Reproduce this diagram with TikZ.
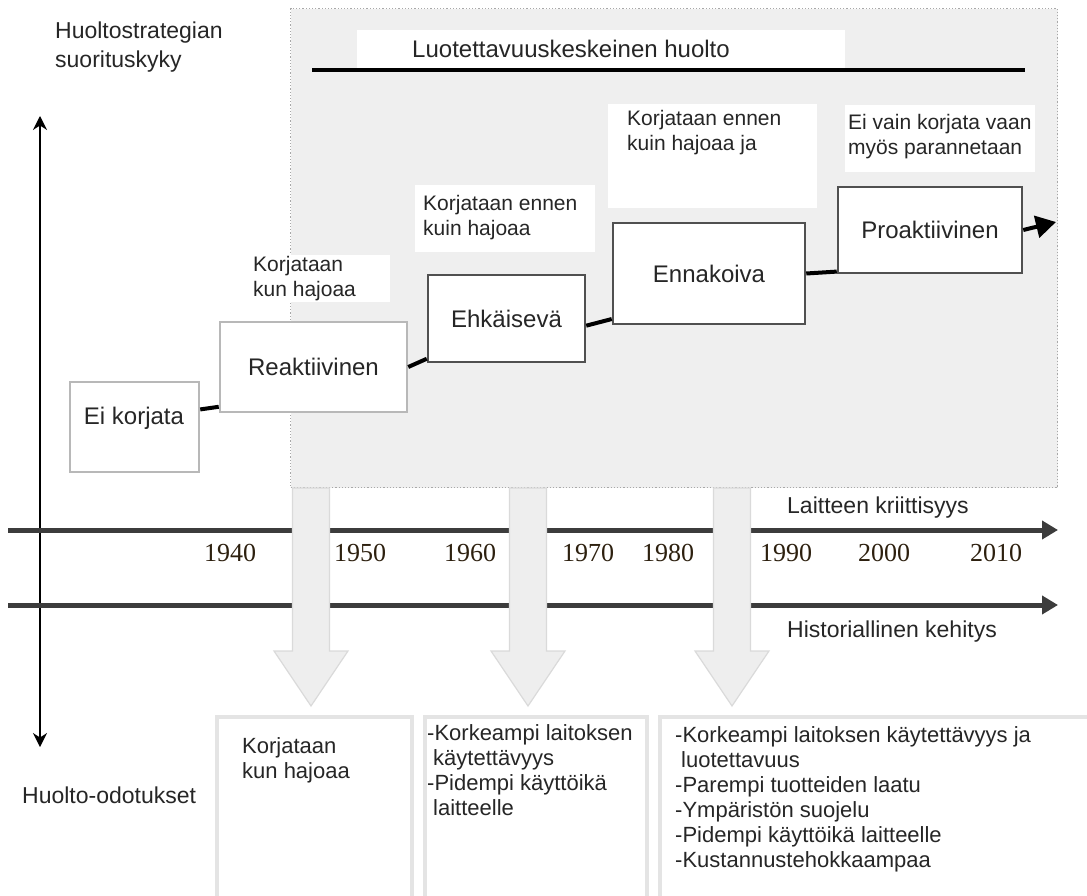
\documentclass[tikz,border=0pt]{standalone}
\usepackage{fontspec}
\setmainfont{Liberation Sans}
\newfontfamily\yearfont{Liberation Serif}
\usetikzlibrary{arrows.meta,calc}
\definecolor{panelfill}{HTML}{EFEFEF}
\definecolor{paneledge}{HTML}{A8A8A8}
\definecolor{blockfill}{HTML}{EEEEEE}
\definecolor{blockedge}{HTML}{DADADA}
\definecolor{yearcol}{RGB}{45,32,15}
\definecolor{txtcol}{HTML}{262626}
\definecolor{lightedge}{HTML}{B8B8B8}
\definecolor{darkedge}{HTML}{505050}
\definecolor{bottomedge}{HTML}{E4E4E4}
\definecolor{axiscol}{HTML}{3C3C3C}
\newcommand\fsbig{\fontsize{24pt}{29pt}\selectfont}
\newcommand\fsmid{\fontsize{23pt}{29pt}\selectfont}
\newcommand\fslbl{\fontsize{21pt}{25pt}\selectfont}
\newcommand\fsbot{\fontsize{22pt}{25pt}\selectfont}
\newcommand\fsyear{\fontsize{26pt}{30pt}\selectfont}
\begin{document}
\begin{tikzpicture}[x=1pt,y=-1pt,
  every node/.style={inner sep=0pt, text=txtcol},
  stagebox/.style={draw=#1, line width=2.5pt, fill=white, font=\fsbig},
  whitebg/.style={fill=white, anchor=north west},
  lbl/.style={font=\fslbl, align=left, anchor=west},
  bottombox/.style={draw=bottomedge, line width=4pt, fill=white, anchor=north west},
  bottomtxt/.style={font=\fsbot, align=left, anchor=west},
  conn/.style={line width=4pt, black},
  axisline/.style={draw=axiscol, line width=5pt, -{Triangle[length=16pt,width=18pt]}},
  blockarrow/.style={fill=blockfill, draw=blockedge, line width=1.2pt},
  yearlbl/.style={font=\yearfont\fsyear, text=yearcol}
]
\useasboundingbox (0,0) rectangle (1087,896);
\clip (0,0) rectangle (1087,896);

% shaded panel
\node[draw=paneledge, dotted, line width=1.2pt, fill=panelfill, minimum width=767pt, minimum height=479pt, anchor=north west] (panel) at (290,8) {};

% title
\node[whitebg, minimum width=488pt, minimum height=40pt] (titlebg) at (357,30) {};
\node[font=\fsbig] (title) at (571,49) {Luotettavuuskeskeinen huolto};
\coordinate (tl) at (312,70);
\coordinate (tr) at (1025,70);
\draw[line width=4pt] (tl) -- (tr);

% label backgrounds
\node[whitebg, minimum width=150pt, minimum height=47pt] (l1bg) at (240,255) {};
\node[whitebg, minimum width=180pt, minimum height=67pt] (l2bg) at (415,185) {};
\node[whitebg, minimum width=209pt, minimum height=104pt] (l3bg) at (608,104) {};
\node[whitebg, minimum width=190pt, minimum height=67pt] (l4bg) at (845,105) {};
\node[lbl] (l1) at (253,278.5) {Korjataan\\kun hajoaa};
\node[lbl] (l2) at (423,217.5) {Korjataan ennen\\kuin hajoaa};
\node[lbl] (l3) at (627,132.5) {Korjataan ennen\\kuin hajoaa ja};
\node[lbl] (l4) at (848,136.5) {Ei vain korjata vaan\\myös parannetaan};

% stage boxes
\node[stagebox=lightedge, minimum width=129pt, minimum height=90pt] (eik) at (134.5,427) {};
\node[font=\fsbig] (eikt) at (134,418) {Ei korjata};
\node[stagebox=lightedge, minimum width=187pt, minimum height=90pt] (reak) at (313.5,367) {Reaktiivinen};
\node[stagebox=darkedge, minimum width=157pt, minimum height=87pt] (ehk) at (506.5,318.5) {Ehkäisevä};
\node[stagebox=darkedge, minimum width=192pt, minimum height=101pt] (enn) at (709,273.5) {Ennakoiva};
\node[stagebox=darkedge, minimum width=184pt, minimum height=86pt] (pro) at (930,230) {Proaktiivinen};

% connectors
\draw[conn] ($(eik.north east)!0.31!(eik.south east)$) -- ($(reak.north west)!0.93!(reak.south west)$);
\draw[conn] (reak.east) -- ($(ehk.north west)!0.95!(ehk.south west)$);
\draw[conn] ($(ehk.north east)!0.58!(ehk.south east)$) -- ($(enn.north west)!0.94!(enn.south west)$);
\draw[conn] (enn.east) -- ($(pro.north west)!0.97!(pro.south west)$);
\coordinate (proend) at (1056,222);
\draw[conn, -{Triangle[length=20pt,width=22pt]}] (pro.east) -- (proend);

% vertical axis
\coordinate (vtop) at (40,116);
\coordinate (vbot) at (40,747);
\draw[line width=1.5pt, {Stealth[length=14pt,width=14pt]}-{Stealth[length=14pt,width=14pt]}] (vbot) -- (vtop);
\node[font=\fsmid, align=left, anchor=west] (ylab) at (55,47) {Huoltostrategian\\suorituskyky};
\node[font=\fsmid, anchor=west] (xlab) at (22,795) {Huolto-odotukset};

% horizontal axes
\coordinate (a1s) at (8,530);
\coordinate (a1e) at (1058,530);
\coordinate (a2s) at (8,605);
\coordinate (a2e) at (1058,605);
\draw[axisline] (a1s) -- (a1e);
\draw[axisline] (a2s) -- (a2e);
\node[font=\fsmid, anchor=west] (crit) at (787,508) {Laitteen kriittisyys};
\node[font=\fsmid, anchor=west] (hist) at (787,632) {Historiallinen kehitys};

% years
\foreach \yx/\yy in {230/1940, 360/1950, 470/1960, 588/1970, 668/1980, 786/1990, 884/2000, 996/2010}
  \node[yearlbl] (y\yy) at (\yx,553) {\yy};

% block arrows
\foreach \cx/\nm in {311/ba1, 528/ba2, 732/ba3}{
  \draw[blockarrow] ({\cx-18.5},488) -- ({\cx+18.5},488) -- ({\cx+18.5},651) -- ({\cx+37},651)
     -- (\cx,706) -- ({\cx-37},651) -- ({\cx-18.5},651) -- cycle;
  \coordinate (\nm) at (\cx,706);
}

% bottom boxes
\node[bottombox, minimum width=195pt, minimum height=200pt] (b1) at (215,715) {};
\node[bottombox, minimum width=222pt, minimum height=200pt] (b2) at (423,715) {};
\node[bottombox, minimum width=445pt, minimum height=200pt] (b3) at (658,715) {};
\node[bottomtxt] (b1t) at (242,760.5) {Korjataan\\kun hajoaa};
\node[bottomtxt] (b2t) at (427,770.5) {-Korkeampi laitoksen\\\hspace{6pt}käytettävyys\\-Pidempi käyttöikä\\\hspace{6pt}laitteelle};
\node[bottomtxt] (b3t) at (675,799.5) {-Korkeampi laitoksen käytettävyys ja\\\hspace{6pt}luotettavuus\\-Parempi tuotteiden laatu\\-Ympäristön suojelu\\-Pidempi käyttöikä laitteelle\\-Kustannustehokkaampaa};
\end{tikzpicture}
\end{document}
